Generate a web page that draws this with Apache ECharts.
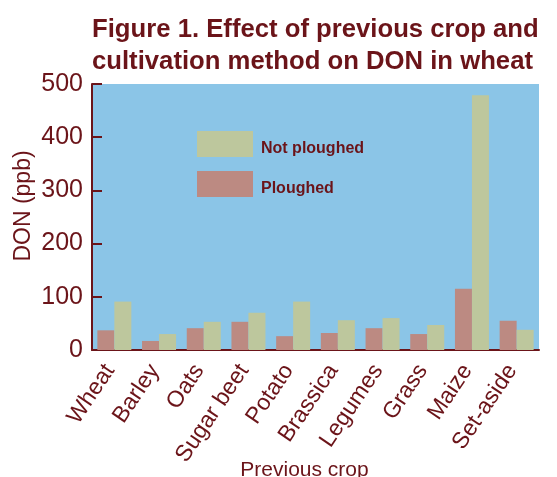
<!DOCTYPE html>
<html><head><meta charset="utf-8">
<script src="https://cdn.jsdelivr.net/npm/echarts@6/dist/echarts.min.js"></script>
<style>html,body{margin:0;padding:0;background:#fff}#c{width:557px;height:477px}</style>
</head><body><div id="c"></div>
<script>
var categories = ['Wheat','Barley','Oats','Sugar beet','Potato','Brassica','Legumes','Grass','Maize','Set-aside'];
var ploughed = [37, 17, 41, 53, 26, 32, 41, 30, 115, 55];
var notPloughed = [91, 30, 53, 70, 91, 56, 60, 47, 479, 38];
var yTicks = {min: 0, max: 500, interval: 100};

var dark = '#6B1419';
var chart = echarts.init(document.getElementById('c'), null, {renderer: 'canvas'});
chart.setOption({
  animation: false,
  title: {
    text: 'Figure 1. Effect of previous crop and\ncultivation method on DON in wheat',
    left: 92, top: 14, padding: 0,
    textStyle: {fontFamily: 'Liberation Sans', fontWeight: 'bold', fontSize: 25.7, lineHeight: 32, color: dark}
  },
  legend: {
    data: ['Not ploughed', 'Ploughed'],
    orient: 'vertical', left: 197, top: 131, padding: 0,
    itemWidth: 56, itemHeight: 26, itemGap: 14,
    icon: 'rect',
    formatter: '{a|{name}}',
    textStyle: {
      fontFamily: 'Liberation Sans', fontWeight: 'bold', fontSize: 16, color: dark,
      rich: {a: {fontFamily: 'Liberation Sans', fontWeight: 'bold', fontSize: 16, color: dark, padding: [9, 0, 0, 3]}}
    }
  },
  grid: {left: 92, right: 18, top: 84, bottom: 127, show: true, backgroundColor: '#8BC5E7', borderWidth: 0, outerBoundsMode: 'none', containLabel: false},
  xAxis: {
    type: 'category', data: categories,
    name: 'Previous crop', nameLocation: 'middle', nameGap: 110, nameMoveOverlap: false,
    nameTextStyle: {fontFamily: 'Liberation Sans', fontSize: 21, color: dark, padding: [0, 22, 0, 0]},
    axisLine: {lineStyle: {color: dark, width: 2}},
    axisTick: {inside: true, length: 6, lineStyle: {color: dark, width: 2}},
    axisLabel: {rotate: 56, margin: 10, padding: [0, 8, 0, 0], fontFamily: 'Liberation Sans', fontSize: 23, color: dark, interval: 0}
  },
  yAxis: {
    type: 'value', min: yTicks.min, max: yTicks.max, interval: yTicks.interval,
    name: 'DON (ppb)', nameLocation: 'middle', nameGap: 57, nameMoveOverlap: false,
    nameTextStyle: {fontFamily: 'Liberation Sans', fontSize: 23, color: dark, padding: [0, 0, 0, 22]},
    axisLine: {show: true, lineStyle: {color: dark, width: 2}},
    axisTick: {show: true, inside: true, length: 10, lineStyle: {color: dark, width: 2}},
    axisLabel: {margin: 9, fontFamily: 'Liberation Sans', fontSize: 25, color: dark},
    splitLine: {show: false}
  },
  series: [
    {name: 'Ploughed', type: 'bar', data: ploughed, barWidth: 17, barGap: '0%', itemStyle: {color: '#BC8A82'}},
    {name: 'Not ploughed', type: 'bar', data: notPloughed, barWidth: 17, barGap: '0%', itemStyle: {color: '#BDC79D'}}
  ]
});
</script></body></html>
